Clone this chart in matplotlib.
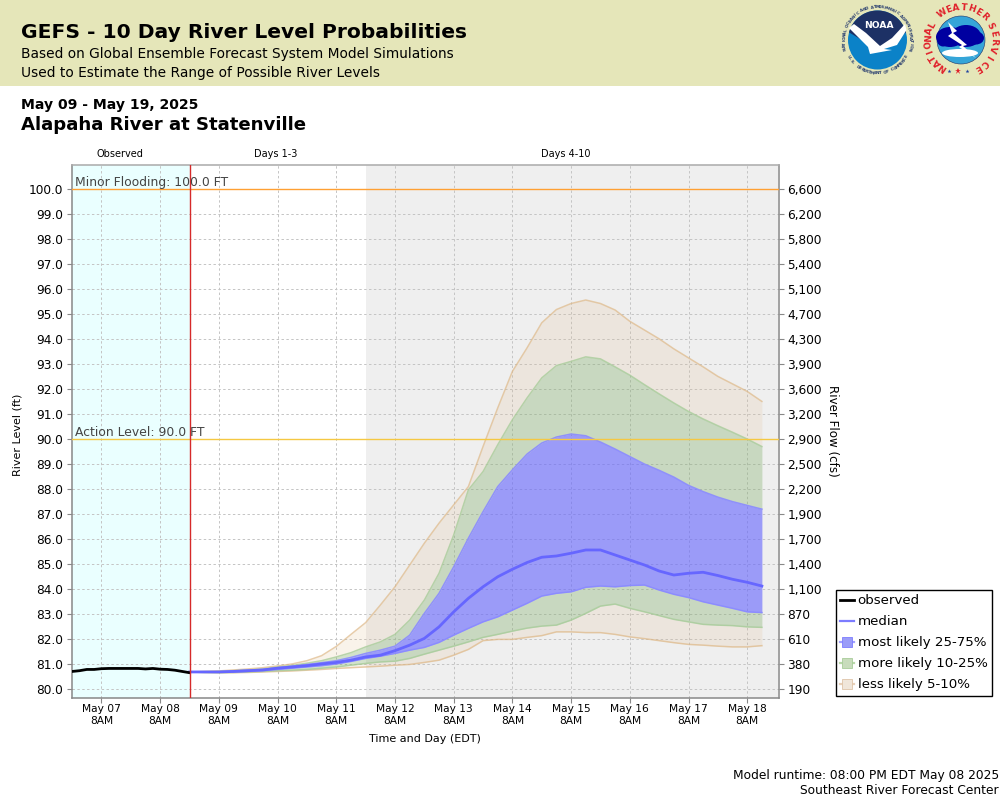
import numpy as np
import pandas as pd
import matplotlib
matplotlib.use("Agg")
import matplotlib.pyplot as plt
from matplotlib.lines import Line2D
from matplotlib.patches import Circle, Polygon, Rectangle, Ellipse

plt.rcParams['font.family'] = 'DejaVu Sans'

# ---------- data ----------
obs_values = [80.72, 80.75, 80.80, 80.80, 80.83, 80.84, 80.84, 80.84, 80.84, 80.84, 80.82,
              80.84, 80.81, 80.80, 80.77, 80.72, 80.67]
less_upper = [80.70, 80.72, 80.74, 80.78, 80.82, 80.87, 80.94, 81.02, 81.15, 81.35, 81.72, 82.20,
              82.67, 83.37, 84.10, 84.97, 85.84, 86.64, 87.37, 88.10, 89.70, 91.24, 92.70, 93.64,
              94.64, 95.17, 95.41, 95.55, 95.41, 95.15, 94.70, 94.35, 94.00, 93.60, 93.24, 92.88,
              92.50, 92.20, 91.90, 91.50]
more_upper = [80.70, 80.71, 80.72, 80.75, 80.78, 80.82, 80.90, 80.96, 81.05, 81.15, 81.30, 81.47,
              81.70, 81.90, 82.20, 82.77, 83.57, 84.64, 86.17, 87.97, 88.70, 89.77, 90.77, 91.64,
              92.44, 92.93, 93.10, 93.28, 93.20, 92.88, 92.55, 92.17, 91.80, 91.44, 91.10, 90.80,
              90.53, 90.27, 90.00, 89.70]
likely_upper = [80.70, 80.70, 80.71, 80.74, 80.77, 80.80, 80.87, 80.93, 81.00, 81.07, 81.15, 81.28,
                81.44, 81.57, 81.73, 82.17, 83.04, 83.84, 84.90, 86.04, 87.10, 88.10, 88.77, 89.40,
                89.84, 90.08, 90.20, 90.13, 89.88, 89.60, 89.30, 89.00, 88.75, 88.48, 88.15, 87.90,
                87.68, 87.50, 87.35, 87.20]
median = [80.70, 80.70, 80.70, 80.72, 80.75, 80.78, 80.85, 80.90, 80.95, 81.02, 81.08, 81.17,
          81.30, 81.37, 81.55, 81.77, 82.04, 82.50, 83.10, 83.64, 84.10, 84.50, 84.80, 85.07,
          85.28, 85.33, 85.44, 85.57, 85.57, 85.37, 85.17, 84.97, 84.73, 84.57, 84.64, 84.68,
          84.55, 84.40, 84.28, 84.13]
likely_lower = [80.70, 80.69, 80.69, 80.70, 80.72, 80.75, 80.80, 80.85, 80.90, 80.95, 81.02, 81.12,
                81.24, 81.33, 81.44, 81.57, 81.68, 81.88, 82.17, 82.44, 82.70, 82.90, 83.17, 83.44,
                83.73, 83.84, 83.90, 84.08, 84.13, 84.10, 84.15, 84.17, 83.97, 83.80, 83.67, 83.50,
                83.37, 83.24, 83.10, 83.07]
more_lower = [80.70, 80.68, 80.67, 80.68, 80.70, 80.72, 80.75, 80.77, 80.80, 80.85, 80.90, 80.97,
              81.04, 81.10, 81.13, 81.24, 81.41, 81.57, 81.73, 81.90, 82.08, 82.20, 82.33, 82.45,
              82.53, 82.57, 82.77, 83.04, 83.33, 83.41, 83.24, 83.10, 82.95, 82.80, 82.70, 82.60,
              82.57, 82.55, 82.50, 82.48]
less_lower = [80.70, 80.68, 80.67, 80.67, 80.68, 80.70, 80.72, 80.74, 80.77, 80.80, 80.84, 80.87,
              80.90, 80.93, 80.97, 81.00, 81.08, 81.17, 81.37, 81.60, 81.95, 82.00, 82.00, 82.08,
              82.15, 82.30, 82.30, 82.27, 82.27, 82.20, 82.10, 82.03, 81.95, 81.87, 81.80, 81.77,
              81.73, 81.70, 81.70, 81.75]
left_ticks = [80, 81, 82, 83, 84, 85, 86, 87, 88, 89, 90, 91, 92, 93, 94, 95, 96, 97, 98, 99, 100]
right_labels = ['190', '380', '610', '870', '1,100', '1,400', '1,700', '1,900', '2,200', '2,500',
                '2,900', '3,200', '3,600', '3,900', '4,300', '4,700', '5,100', '5,400', '5,800',
                '6,200', '6,600']
x_labels = ['May 07\n8AM', 'May 08\n8AM', 'May 09\n8AM', 'May 10\n8AM', 'May 11\n8AM', 'May 12\n8AM',
            'May 13\n8AM', 'May 14\n8AM', 'May 15\n8AM', 'May 16\n8AM', 'May 17\n8AM', 'May 18\n8AM']
legend_labels = ['observed', 'median', 'most likely 25-75%', 'more likely 10-25%', 'less likely 5-10%']
minor_flood = 100.0
action_level = 90.0

obs_time = pd.date_range('2025-05-06 20:00', periods=len(obs_values), freq='3h')
fc_time = pd.date_range('2025-05-08 20:00', periods=len(median), freq='6h')
x_ticks = pd.date_range('2025-05-07 08:00', periods=len(x_labels), freq='24h')
now = pd.Timestamp('2025-05-08 20:00')
grey_start = pd.Timestamp('2025-05-11 20:00')

# ---------- figure ----------
fig = plt.figure(figsize=(10, 8), dpi=100, facecolor='white')
def px(x, y):
    return x / 1000, 1 - y / 800

# header + logos layer
bg = fig.add_axes([0, 0, 1, 1], zorder=-1)
bg.set_xlim(0, 1000); bg.set_ylim(800, 0); bg.axis('off')
bg.add_patch(Rectangle((0, 0), 1000, 86, fc='#E5E6B9', ec='none'))

def ring_text(s, cx, cy, r, a0, a1, flip=False, **kw):
    for ch, a in zip(s, np.linspace(a0, a1, len(s))):
        t = np.radians(a)
        bg.text(cx + r * np.sin(t), cy - r * np.cos(t), ch, ha='center', va='center',
                rotation=180 - a if flip else -a, **kw)

# NOAA logo
cx, cy = 877.5, 40
bg.add_patch(Circle((cx, cy), 29.5, fc='#0B82C8', ec='none'))
theta = np.radians(np.linspace(195, 345, 30))
arc = [(cx + 29.5 * np.cos(a), cy + 29.5 * np.sin(a)) for a in theta]
bg.add_patch(Polygon(arc + [(cx + 6, cy + 7), (cx - 4, cy + 7)], fc='#1D3165', ec='none'))
bg.add_patch(Polygon([(849, 28), (854, 24), (866, 33), (880, 46), (892, 38), (905, 24), (906.5, 30),
                      (897, 45), (884, 49), (892, 50), (870, 54), (868, 47), (858, 37)],
                     fc='white', ec='none'))
bg.text(878.5, 25, 'NOAA', color='white', fontsize=6.6, fontweight='bold', ha='center', va='center')
ring_text('NATIONAL OCEANIC AND ATMOSPHERIC ADMINISTRATION', cx, cy, 33, -105, 105,
          fontsize=3.0, color='#2A3F70', fontweight='bold')
ring_text('U.S. DEPARTMENT OF COMMERCE', cx, cy, 33.5, 240, 120, flip=True,
          fontsize=3.0, color='#2A3F70', fontweight='bold')

# NWS logo
cx, cy = 961, 40
bg.add_patch(Circle((cx, cy), 24, fc='#35A5D8', ec='#1D3165', lw=0.4))
for e in [(950, 37, 28, 20), (966, 36, 30, 22), (976, 38, 16, 13), (943, 40, 12, 13)]:
    bg.add_patch(Ellipse(e[:2], e[2], e[3], fc='#0000A0', ec='none'))
bg.add_patch(Ellipse((960, 53), 36, 8, fc='white', ec='none'))
bg.add_patch(Polygon([(948, 22), (957, 31), (953, 33), (967, 45), (963, 46), (976, 58), (959, 47),
                      (962, 45), (948, 36), (952, 33)], fc='white', ec='none'))
ring_kw = dict(fontsize=6.4, color='#E0202A', fontweight='bold')
ring_text('NATIONAL', cx, cy, 32.5, -146, -63, **ring_kw)
ring_text('WEATHER', cx, cy, 32.5, -35, 45, **ring_kw)
ring_text('SERVICE', cx, cy, 32.5, 65, 149, **ring_kw)
for x, c, s in [(949, '#1D3FA0', 3), (958, '#E0202A', 5), (967, '#1D3FA0', 3)]:
    bg.plot([x], [71], marker='*', ms=s, color=c, mew=0)

# header text
def ftext(x, y, s, **kw):
    fig.text(*px(x, y), s, va='center', **kw)

ftext(21, 33, 'GEFS - 10 Day River Level Probabilities', fontsize=14.55, fontweight='bold', ha='left')
ftext(21, 54, 'Based on Global Ensemble Forecast System Model Simulations', fontsize=9.9, ha='left')
ftext(21, 73, 'Used to Estimate the Range of Possible River Levels', fontsize=9.9, ha='left')
ftext(21, 105, 'May 09 - May 19, 2025', fontsize=10.05, fontweight='bold', ha='left')
ftext(21, 125, 'Alapaha River at Statenville', fontsize=13.05, fontweight='bold', ha='left')
ftext(120, 154, 'Observed', fontsize=7, ha='center')
ftext(276, 154, 'Days 1-3', fontsize=7, ha='center')
ftext(566, 154, 'Days 4-10', fontsize=7, ha='center')
ftext(999, 775, 'Model runtime: 08:00 PM EDT May 08 2025', fontsize=8.85, ha='right')
ftext(999, 791, 'Southeast River Forecast Center', fontsize=8.85, ha='right')

# main axes
ax = fig.add_axes([0.0715, 1 - 697.5 / 800, 0.707, 533 / 800])
ax.set_facecolor('white')
d0 = x_ticks[0]
day = pd.Timedelta(days=1)
x_left, x_right = d0 - 0.511 * day, d0 + 11.533 * day
ax.set_xlim(x_left, x_right)
ax.set_ylim(79.68, 100.96)
ax.axvspan(x_left, now, fc='#EAFFFF', ec='none', zorder=0)
ax.axvspan(grey_start, x_right, fc='#EFEFEF', ec='none', zorder=0)
ax.set_yticks(left_ticks)
ax.set_yticklabels([f'{v:.1f}' for v in left_ticks], fontsize=8.7)
ax.set_xticks(x_ticks)
ax.set_xticklabels(x_labels, fontsize=7.7, linespacing=1.25)
ax.grid(True, color='#C4C4C4', ls=(0, (2.5, 2.5)), lw=0.7, zorder=1)
ax.set_axisbelow(True)
ax.tick_params(axis='both', length=3.5, width=0.8, color='#888888', pad=2.5)
ax.tick_params(axis='x', pad=1)
for name, s in ax.spines.items():
    s.set_color('#AAAAAA' if name == 'top' else '#888888')
    s.set_linewidth(1.1)

less_c, more_c, most_c = '#DEB887', '#80AE69', '#6464FF'
ax.fill_between(fc_time, more_upper, less_upper, color=less_c, alpha=0.17, lw=0, zorder=2)
ax.fill_between(fc_time, less_lower, more_lower, color=less_c, alpha=0.17, lw=0, zorder=2)
ax.fill_between(fc_time, likely_upper, more_upper, color=more_c, alpha=0.35, lw=0, zorder=2)
ax.fill_between(fc_time, more_lower, likely_lower, color=more_c, alpha=0.35, lw=0, zorder=2)
ax.fill_between(fc_time, likely_lower, likely_upper, color=most_c, alpha=0.6, lw=0, zorder=2)
for vals in (less_upper, less_lower):
    ax.plot(fc_time, vals, color=less_c, alpha=0.7, lw=1.1, zorder=3)
for vals in (more_upper, more_lower):
    ax.plot(fc_time, vals, color='#A8CC9A', alpha=0.8, lw=1.1, zorder=3)
for vals in (likely_upper, likely_lower):
    ax.plot(fc_time, vals, color='#8A8AFF', alpha=0.9, lw=1.1, zorder=3)
ax.plot(fc_time, median, color='#6666FF', lw=2.0, zorder=4)
ax.plot(obs_time, obs_values, color='black', lw=2.0, zorder=4)
ax.axhline(minor_flood, color='#FFA033', lw=1.0, zorder=3)
ax.axhline(action_level, color='#F5C842', lw=1.0, zorder=3)
ax.axvline(now, color='#D62A2A', lw=1.0, zorder=5)
t0 = x_left + 0.06 * day
ax.text(t0, minor_flood + 0.25, f'Minor Flooding: {minor_flood:.1f} FT', fontsize=8.9, color='#444444',
        va='center', ha='left', zorder=6)
ax.text(t0, action_level + 0.28, f'Action Level: {action_level:.1f} FT', fontsize=8.9, color='#444444',
        va='center', ha='left', zorder=6)
ax.set_xlabel('Time and Day (EDT)', fontsize=8, labelpad=6)
fig.text(*px(18, 435), 'River Level (ft)', fontsize=8, rotation=90, ha='center', va='center')

ax2 = ax.twinx()
ax2.set_ylim(ax.get_ylim())
ax2.set_yticks(left_ticks)
ax2.set_yticklabels(right_labels, fontsize=8.7)
ax2.tick_params(axis='y', length=3.5, width=0.8, color='#888888', pad=3)
fig.text(*px(832, 431), 'River Flow (cfs)', fontsize=8.6, rotation=270, ha='center', va='center')
for s in ax2.spines.values():
    s.set_visible(False)

handles = [
    Line2D([], [], color='black', lw=2),
    Line2D([], [], color='#7C7CFF', lw=1.6),
    Line2D([], [], color='#A0A0FF', lw=1.6, marker='s', ms=6.5, mfc='#9A9CF8', mec='#7C7CFF', mew=0.6),
    Line2D([], [], color='#B8D8A8', lw=1.6, marker='s', ms=6.5, mfc='#C8DCBC', mec='#A8CC9A', mew=0.6),
    Line2D([], [], color='#E8D0B8', lw=1.6, marker='s', ms=6.5, mfc='#F0E6DA', mec='#DEC4A8', mew=0.6),
]
fig.legend(handles, legend_labels,
           loc='lower left', bbox_to_anchor=(835.5 / 1000, 1 - 695.5 / 800), borderaxespad=0,
           fontsize=9.65, frameon=True, fancybox=False, framealpha=1, edgecolor='black',
           handlelength=1.1, handletextpad=0.25, labelspacing=0.6, borderpad=0.3, numpoints=1)

fig.savefig('out.png', dpi=100, facecolor='white')
